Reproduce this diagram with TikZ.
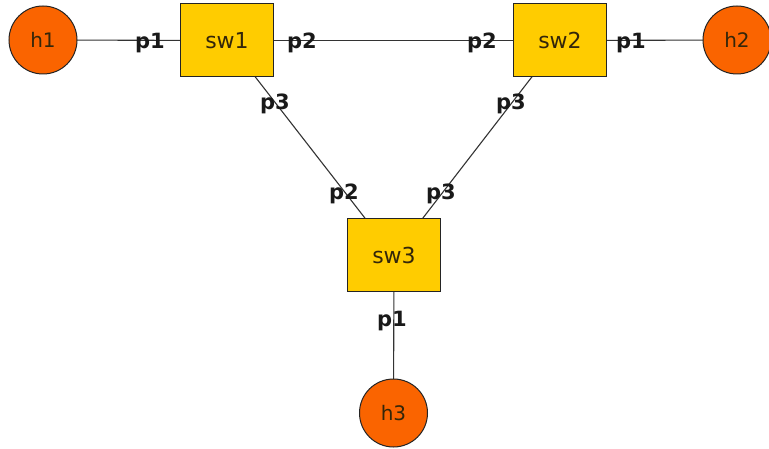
\documentclass[tikz,border=0pt]{standalone}
\usepackage{fontspec}
\setmainfont{DejaVu Sans}
\definecolor{hostfill}{HTML}{FA6400}
\definecolor{swfill}{HTML}{FFCC00}
\definecolor{edgecol}{HTML}{333333}
\definecolor{txtcol}{HTML}{33260A}
\begin{document}
\begin{tikzpicture}[x=1pt,y=-1pt,
  host/.style={circle,draw=edgecol!70!black,line width=1pt,fill=hostfill,minimum size=68pt,inner sep=0pt,font=\fontsize{20}{24}\selectfont,text=txtcol},
  switch/.style={rectangle,draw=edgecol!70!black,line width=1pt,fill=swfill,minimum width=93pt,minimum height=73pt,inner sep=0pt,font=\fontsize{22}{26}\selectfont,text=txtcol},
  link/.style={draw=edgecol,line width=1.1pt},
  port/.style={font=\bfseries\fontsize{21}{24}\selectfont,text=black!90,inner sep=0pt}]
\useasboundingbox (0,0) rectangle (769,449);
\fill[white] (0,0) rectangle (769,449);
% link end points (node centres)
\coordinate (ch1) at (43,40);
\coordinate (csw1) at (227,40.5);
\coordinate (csw2) at (560,40.5);
\coordinate (ch2) at (737,40);
\coordinate (csw3) at (394,255.5);
\coordinate (ch3) at (393.5,413);
\draw[link] (ch1) -- (csw1);
\draw[link] (csw1) -- (csw2);
\draw[link] (csw2) -- (ch2);
\draw[link] (csw1) -- (csw3);
\draw[link] (csw2) -- (csw3);
\draw[link] (csw3) -- (ch3);
% nodes
\node[host] (h1) at (ch1) {h1};
\node[host] (h2) at (ch2) {h2};
\node[host] (h3) at (ch3) {h3};
\node[switch] (sw1) at (csw1) {sw1};
\node[switch] (sw2) at (csw2) {sw2};
\node[switch] (sw3) at (csw3) {sw3};
% port labels
\node[port] (l1) at (150,43) {p1};
\node[port] (l2) at (302,43) {p2};
\node[port] (l3) at (482,43) {p2};
\node[port] (l4) at (631,43) {p1};
\node[port] (l5) at (275,104) {p3};
\node[port] (l6) at (511,104) {p3};
\node[port] (l7) at (344,194) {p2};
\node[port] (l8) at (441,194) {p3};
\node[port] (l9) at (392,321) {p1};
\end{tikzpicture}
\end{document}
